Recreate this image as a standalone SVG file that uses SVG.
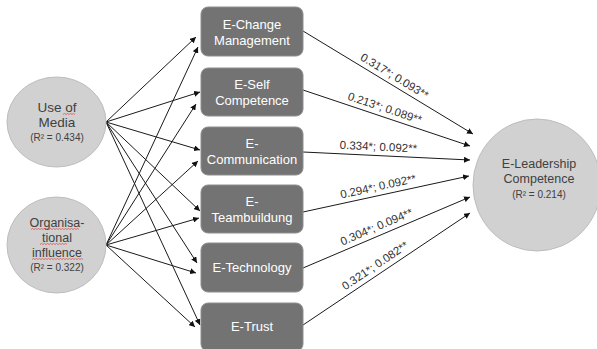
<svg xmlns="http://www.w3.org/2000/svg" width="597" height="349" viewBox="0 0 597 349">
<defs>
<marker id="ah" markerWidth="6" markerHeight="6" refX="6" refY="3" orient="auto" markerUnits="userSpaceOnUse">
<path d="M0,0 L6,3 L0,6 z" fill="#111"/>
</marker>
<style>
.circ{fill:#d2d1d1;stroke:#bdbdbd;stroke-width:1}
.box{fill:#737373;stroke:#8e8e8e;stroke-width:1}
.bt{font-family:"Liberation Sans",Arial,sans-serif;font-size:13px;fill:#ffffff;text-anchor:middle}
.ct{font-family:"Liberation Sans",Arial,sans-serif;font-size:12.5px;fill:#404040;text-anchor:middle}
.rt{font-family:"Liberation Sans",Arial,sans-serif;font-size:10px;fill:#404040;text-anchor:middle}
.lt{font-family:"Liberation Sans",Arial,sans-serif;font-size:11.5px;fill:#333;text-anchor:middle}
.ln{stroke:#1a1a1a;stroke-width:1;fill:none;marker-end:url(#ah)}
.sq{stroke:#e05050;stroke-width:0.8;fill:none}
</style>
</defs>
<rect width="597" height="349" fill="#ffffff"/>

<g id="connectors">
<line class="ln" x1="106" y1="122" x2="196" y2="37"/>
<line class="ln" x1="106" y1="122" x2="200" y2="92"/>
<line class="ln" x1="106" y1="122" x2="200" y2="150"/>
<line class="ln" x1="106" y1="122" x2="200" y2="211"/>
<line class="ln" x1="106" y1="122" x2="197" y2="263"/>
<line class="ln" x1="106" y1="122" x2="200" y2="325"/>
<line class="ln" x1="106" y1="245" x2="198" y2="47"/>
<line class="ln" x1="106" y1="245" x2="196" y2="104"/>
<line class="ln" x1="106" y1="245" x2="198" y2="161"/>
<line class="ln" x1="106" y1="245" x2="199" y2="218"/>
<line class="ln" x1="106" y1="245" x2="196" y2="273"/>
<line class="ln" x1="106" y1="245" x2="195" y2="327"/>
<line class="ln" x1="303" y1="31" x2="473" y2="134"/>
<line class="ln" x1="303" y1="90" x2="470" y2="146"/>
<line class="ln" x1="303" y1="152" x2="470" y2="160"/>
<line class="ln" x1="303" y1="212" x2="469" y2="176"/>
<line class="ln" x1="303" y1="268" x2="470" y2="197"/>
<line class="ln" x1="303" y1="325" x2="470" y2="213"/>
<g transform="translate(390,83.7) rotate(31.2)"><text class="lt" x="0" y="-5">0.317*; 0.093**</text></g>
<g transform="translate(382,116.5) rotate(18.5)"><text class="lt" x="0" y="-5">0.213*; 0.089**</text></g>
<g transform="translate(378,155.6) rotate(2.7)"><text class="lt" x="0" y="-5">0.334*; 0.092**</text></g>
<g transform="translate(380,195.2) rotate(-12.3)"><text class="lt" x="0" y="-5">0.294*; 0.092**</text></g>
<g transform="translate(380,235) rotate(-23.2)"><text class="lt" x="0" y="-5">0.304*; 0.094**</text></g>
<g transform="translate(380,273) rotate(-34)"><text class="lt" x="0" y="-5">0.321*; 0.082**</text></g>
</g>

<g id="use-of-media">
<ellipse class="circ" cx="56.5" cy="122" rx="49.5" ry="45"/>
<text class="ct" x="57" y="112" style="font-size:13.5px">Use of</text>
<text class="ct" x="57" y="127" style="font-size:13.5px">Media</text>
<text class="rt" x="57" y="141">(R² = 0.434)</text>
<path class="sq" d="M63,114.5 l1.5,-1 l1.5,1 l1.5,-1 l1.5,1 l1.5,-1 l1.5,1 l1.5,-1 l1.5,1"/>
</g>

<g id="organisational-influence">
<ellipse class="circ" cx="56.5" cy="245" rx="49.5" ry="48"/>
<text class="ct" x="57" y="227">Organisa-</text>
<text class="ct" x="57" y="242">tional</text>
<text class="ct" x="57" y="257">influence</text>
<text class="rt" x="57" y="271">(R² = 0.322)</text>
<path class="sq" d="M31,229.5 l1.5,-1 l1.5,1 l1.5,-1 l1.5,1 l1.5,-1 l1.5,1 l1.5,-1 l1.5,1 l1.5,-1 l1.5,1 l1.5,-1 l1.5,1 l1.5,-1 l1.5,1 l1.5,-1 l1.5,1 l1.5,-1 l1.5,1 l1.5,-1 l1.5,1 l1.5,-1 l1.5,1 l1.5,-1 l1.5,1 l1.5,-1 l1.5,1 l1.5,-1 l1.5,1 l1.5,-1 l1.5,1 l1.5,-1 l1.5,1"/>
<path class="sq" d="M40,244.5 l1.5,-1 l1.5,1 l1.5,-1 l1.5,1 l1.5,-1 l1.5,1 l1.5,-1 l1.5,1 l1.5,-1 l1.5,1 l1.5,-1 l1.5,1 l1.5,-1 l1.5,1 l1.5,-1 l1.5,1 l1.5,-1 l1.5,1"/>
<path class="sq" d="M32,259.5 l1.5,-1 l1.5,1 l1.5,-1 l1.5,1 l1.5,-1 l1.5,1 l1.5,-1 l1.5,1 l1.5,-1 l1.5,1 l1.5,-1 l1.5,1 l1.5,-1 l1.5,1 l1.5,-1 l1.5,1 l1.5,-1 l1.5,1 l1.5,-1 l1.5,1 l1.5,-1 l1.5,1 l1.5,-1 l1.5,1 l1.5,-1 l1.5,1 l1.5,-1 l1.5,1 l1.5,-1 l1.5,1 l1.5,-1 l1.5,1 l1.5,-1 l1.5,1"/>
</g>

<g id="e-change-management">
<rect class="box" x="201" y="7" width="102" height="49" rx="7"/>
<text class="bt" x="252" y="29">E-Change</text>
<text class="bt" x="252" y="45">Management</text>
</g>
<g id="e-self-competence">
<rect class="box" x="201" y="68" width="102" height="48" rx="7"/>
<text class="bt" x="252" y="89">E-Self</text>
<text class="bt" x="252" y="105">Competence</text>
</g>
<g id="e-communication">
<rect class="box" x="201" y="127" width="102" height="48" rx="7"/>
<text class="bt" x="252" y="148">E-</text>
<text class="bt" x="252" y="164">Communication</text>
</g>
<g id="e-teambuilding">
<rect class="box" x="201" y="185" width="102" height="48" rx="7"/>
<text class="bt" x="252" y="206">E-</text>
<text class="bt" x="252" y="222">Teambuildung</text>
</g>
<g id="e-technology">
<rect class="box" x="201" y="243" width="102" height="49" rx="7"/>
<text class="bt" x="252" y="272">E-Technology</text>
</g>
<g id="e-trust">
<rect class="box" x="201" y="303" width="102" height="48" rx="7"/>
<text class="bt" x="252" y="331">E-Trust</text>
</g>

<g id="e-leadership-competence">
<ellipse class="circ" cx="537" cy="185" rx="64" ry="66"/>
<text class="ct" x="539" y="168">E-Leadership</text>
<text class="ct" x="539" y="183">Competence</text>
<text class="rt" x="539" y="198">(R² = 0.214)</text>
</g>
</svg>
